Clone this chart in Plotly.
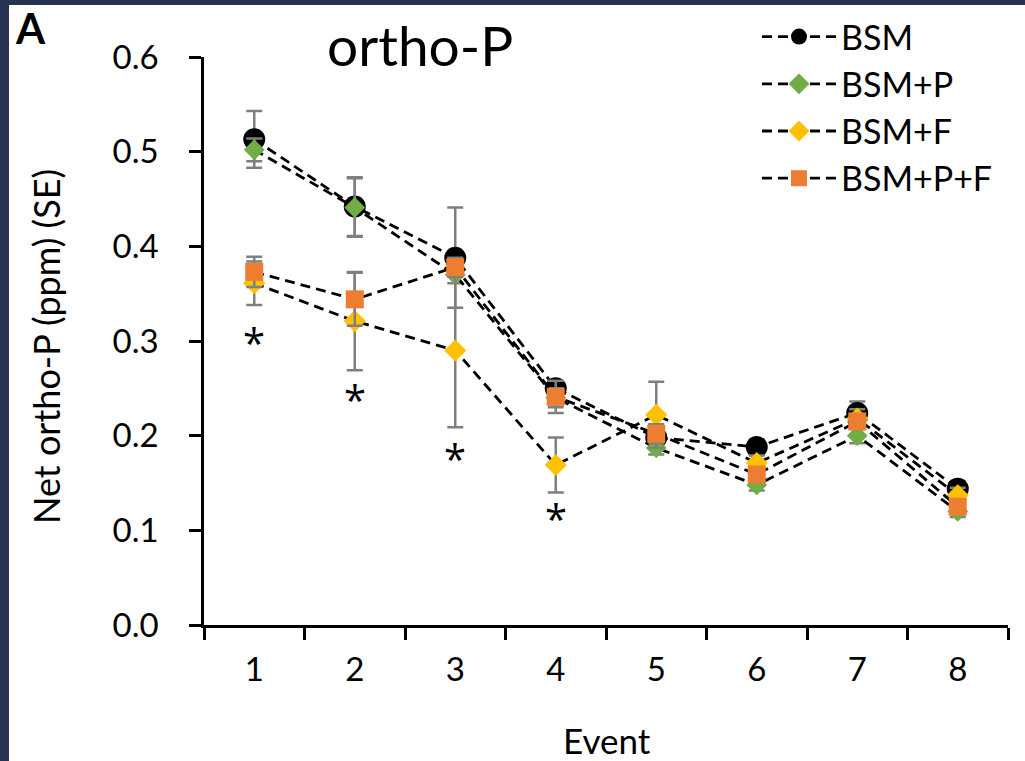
import plotly.graph_objects as go

events = ["1", "2", "3", "4", "5", "6", "7", "8"]

bsm = [0.513, 0.442, 0.388, 0.250, 0.198, 0.188, 0.224, 0.144]
bsm_se = [0.030, 0.031, 0.053, 0.007, 0.008, 0.008, 0.012, 0.008]

bsm_p = [0.502, 0.441, 0.370, 0.240, 0.187, 0.148, 0.200, 0.120]
bsm_p_se = [0.012, 0.031, 0.009, 0.010, 0.007, 0.006, 0.008, 0.006]

bsm_f = [0.361, 0.321, 0.290, 0.169, 0.222, 0.171, 0.218, 0.137]
bsm_f_se = [0.023, 0.052, 0.081, 0.029, 0.035, 0.008, 0.010, 0.008]

bsm_pf = [0.373, 0.344, 0.378, 0.241, 0.202, 0.159, 0.215, 0.125]
bsm_pf_se = [0.016, 0.028, 0.010, 0.017, 0.010, 0.006, 0.008, 0.006]

star_events = ["1", "2", "3", "4"]
star_y = [0.304, 0.243, 0.181, 0.118]

series = [
    ("BSM", bsm, bsm_se, "#000000", "circle", 22),
    ("BSM+P", bsm_p, bsm_p_se, "#70ad47", "diamond", 16),
    ("BSM+F", bsm_f, bsm_f_se, "#ffc000", "diamond", 17),
    ("BSM+P+F", bsm_pf, bsm_pf_se, "#ed7d31", "square", 18),
]

FONT = "Lato"

fig = go.Figure()
for name, vals, se, col, sym, size in series:
    fig.add_trace(go.Scatter(
        x=events, y=vals, name=name, mode="lines+markers",
        line=dict(color="black", width=2.8, dash="10px,6px"),
        marker=dict(color=col, symbol=sym, size=size, line=dict(width=0)),
        error_y=dict(type="data", array=se, visible=True, color="#7f7f7f",
                     thickness=2.5, width=8),
    ))

annotations = []
for ev, yv in zip(star_events, star_y):
    annotations.append(dict(x=events.index(ev), y=yv, xref="x", yref="y", text="*",
                            showarrow=False, font=dict(family="Open Sans", size=40, color="black"),
                            yanchor="middle", yshift=-5))

W, H = 1025, 761
L, R, T, B = 204, 17, 57, 136
pw, ph = W - L - R, H - T - B

def px(xp):
    return (xp - L) / pw

def py(yp):
    return (H - B - yp) / ph

annotations += [
    dict(text="ortho-P", x=px(420), y=py(45), xref="paper", yref="paper",
         showarrow=False, font=dict(family=FONT, size=55, color="black"),
         xanchor="center", yanchor="middle"),
    dict(text="<b>A</b>", x=px(13), y=py(28), xref="paper", yref="paper",
         showarrow=False, font=dict(family=FONT, size=42, color="black"),
         xanchor="left", yanchor="middle"),
    dict(text="Net ortho-P (ppm) (SE)", x=px(46), y=py(347), xref="paper", yref="paper",
         showarrow=False, textangle=-90, font=dict(family=FONT, size=36, color="black"),
         xanchor="center", yanchor="middle"),
    dict(text="Event", x=px(607), y=py(740), xref="paper", yref="paper",
         showarrow=False, font=dict(family=FONT, size=35, color="black"),
         xanchor="center", yanchor="middle"),
]

shapes = [
    dict(type="rect", xref="paper", yref="paper", x0=px(0), x1=px(9), y0=py(H), y1=py(0),
         fillcolor="#283252", line=dict(width=0), layer="above"),
    dict(type="rect", xref="paper", yref="paper", x0=px(0), x1=px(W), y0=py(5), y1=py(0),
         fillcolor="#283252", line=dict(width=0), layer="above"),
]

fig.update_layout(
    width=W, height=H,
    margin=dict(l=L, r=R, t=T, b=B, autoexpand=False),
    paper_bgcolor="white", plot_bgcolor="white",
    font=dict(family=FONT, color="black"),
    showlegend=True,
    legend=dict(x=px(757), y=py(8), xanchor="left", yanchor="top",
                bgcolor="rgba(0,0,0,0)", font=dict(family=FONT, size=34, color="black"),
                itemwidth=74, tracegroupgap=0),
    annotations=annotations,
    shapes=shapes,
    xaxis=dict(type="category", range=[-0.5, 7.5], showline=True, linecolor="black",
               linewidth=2.5, ticks="outside", ticklen=12, tickwidth=2.5, tickcolor="black",
               tickson="boundaries", showgrid=False, zeroline=False,
               tickfont=dict(family=FONT, size=33, color="black"), ticklabelstandoff=14,
               fixedrange=True),
    yaxis=dict(range=[0, 0.6], showline=True, linecolor="black", linewidth=2.5,
               ticks="outside", ticklen=12, tickwidth=2.5, tickcolor="black",
               tickvals=[0, 0.1, 0.2, 0.3, 0.4, 0.5, 0.6], tickformat=".1f",
               showgrid=False, zeroline=False,
               tickfont=dict(family=FONT, size=33, color="black"), ticklabelstandoff=24,
               fixedrange=True),
)

fig.write_html("out.html")
